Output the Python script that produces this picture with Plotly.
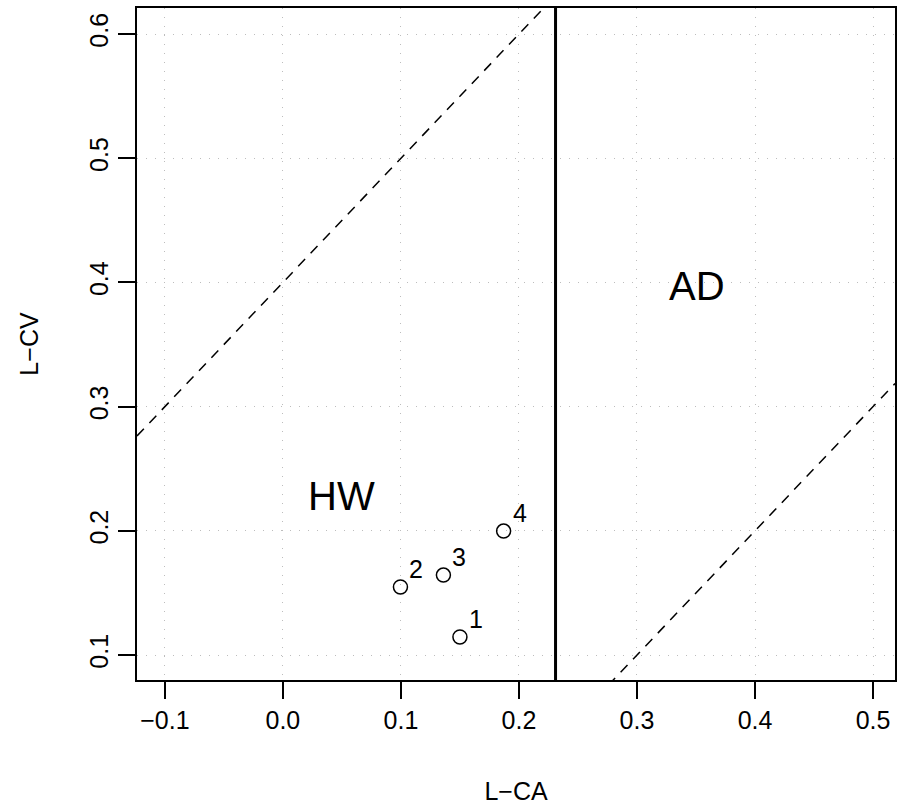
import plotly.graph_objects as go

# Data
site_ids = ["1", "2", "3", "4"]
l_ca = [0.150, 0.0996, 0.136, 0.187]
l_cv = [0.1145, 0.1548, 0.1644, 0.1998]

# Reference lines
vline_x = 0.231
dashed_slopes = [1.0, 1.0]
dashed_intercepts = [0.4, -0.2]

region_labels = ["HW", "AD"]
region_x = [0.05, 0.351]
region_y = [0.228, 0.397]

x_ticks = [-0.1, 0.0, 0.1, 0.2, 0.3, 0.4, 0.5]
x_ticktext = ["\u22120.1", "0.0", "0.1", "0.2", "0.3", "0.4", "0.5"]
y_ticks = [0.1, 0.2, 0.3, 0.4, 0.5, 0.6]
y_ticktext = ["0.1", "0.2", "0.3", "0.4", "0.5", "0.6"]

x_range = [-0.1236, 0.5186]
y_range = [0.0799, 0.621]

FONT = "Liberation Sans, Arial, Helvetica, sans-serif"

fig = go.Figure()

# dashed diagonal lines
for m, b in zip(dashed_slopes, dashed_intercepts):
    xs = [x_range[0], x_range[1]]
    ys = [m * v + b for v in xs]
    fig.add_trace(go.Scatter(x=xs, y=ys, mode="lines",
                             line=dict(color="black", width=1.5, dash="10px,8px"),
                             hoverinfo="skip", showlegend=False))

# vertical solid line
fig.add_shape(type="line", xref="x", yref="paper", x0=vline_x, x1=vline_x, y0=0, y1=1,
              line=dict(color="black", width=3))

# points
fig.add_trace(go.Scatter(x=l_ca, y=l_cv, mode="markers",
                         marker=dict(symbol="circle-open", size=14, color="black",
                                     line=dict(width=1.5, color="black")),
                         showlegend=False))

# point labels
for sid, xv, yv in zip(site_ids, l_ca, l_cv):
    fig.add_annotation(x=xv, y=yv, text=sid, showarrow=False, xref="x", yref="y",
                       xshift=16, yshift=18, font=dict(size=25, color="black", family=FONT))

for t, xv, yv in zip(region_labels, region_x, region_y):
    fig.add_annotation(x=xv, y=yv, text=t, showarrow=False, xref="x", yref="y",
                       font=dict(size=40, color="black", family=FONT))

fig.update_layout(
    width=898, height=808,
    margin=dict(l=137, r=1, t=8, b=128),
    paper_bgcolor="white", plot_bgcolor="white",
    font=dict(family=FONT, size=24, color="black"),
    showlegend=False,
)
fig.update_xaxes(range=x_range, tickvals=x_ticks, ticktext=x_ticktext,
                 ticks="outside", ticklen=17, tickwidth=1.5, tickcolor="black",
                 showline=True, linecolor="black", linewidth=1.5, mirror=True,
                 showgrid=True, gridcolor="#bdbdbd", griddash="1px,8px", gridwidth=1,
                 zeroline=False, tickfont=dict(size=25),
                 title=dict(text="L\u2212CA", standoff=50, font=dict(size=25)))
fig.update_yaxes(range=y_range, tickvals=y_ticks, ticktext=y_ticktext,
                 ticks="outside", ticklen=17, tickwidth=1.5, tickcolor="black",
                 tickangle=-90,
                 showline=True, linecolor="black", linewidth=1.5, mirror=True,
                 showgrid=True, gridcolor="#bdbdbd", griddash="1px,8px", gridwidth=1,
                 zeroline=False, tickfont=dict(size=25),
                 title=dict(text="L\u2212CV", standoff=40, font=dict(size=25)))

fig.write_html("out.html")
